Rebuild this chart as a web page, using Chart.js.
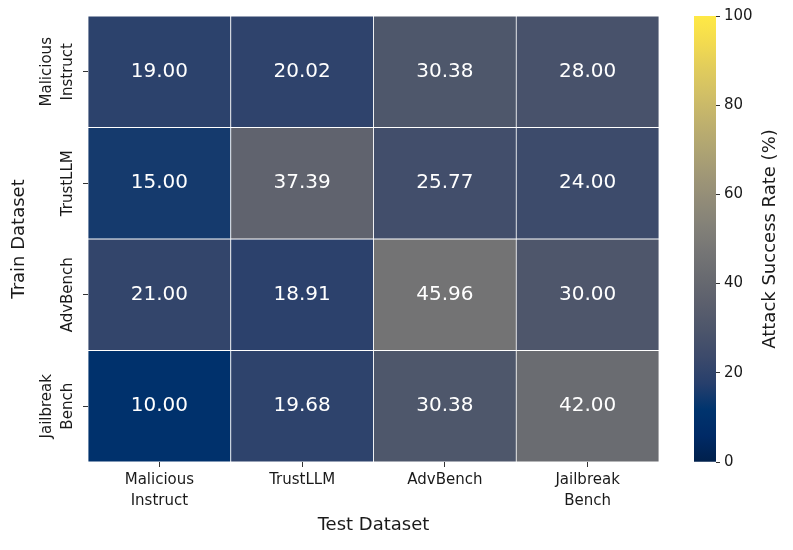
<!DOCTYPE html>
<html>
<head>
<meta charset="utf-8">
<script src="https://cdn.jsdelivr.net/npm/chart.js@4"></script>
<style>
  body { margin: 0; background: #fff; }
  #wrap { position: relative; width: 793px; height: 550px; }
  #heat { position: absolute; left: 0; top: 0; }
  #cbar { position: absolute; left: 680px; top: 0; }
</style>
</head>
<body>
<div id="wrap">
  <canvas id="heat" width="680" height="550"></canvas>
  <canvas id="cbar" width="113" height="550"></canvas>
</div>
<script>
const FONT = "'Comic Sans MS', 'DejaVu Sans', sans-serif";
Chart.defaults.font.family = FONT;
Chart.defaults.color = '#1a1a1a';

// test datasets (columns) and train datasets (rows)
const testLabels = [['Malicious', 'Instruct'], 'TrustLLM', 'AdvBench', ['Jailbreak', 'Bench']];
const trainLabels = [['Malicious', 'Instruct'], ['TrustLLM'], ['AdvBench'], ['Jailbreak', 'Bench']];

// attack success rate (%), one array per train dataset
const rowMalicious = [19.00, 20.02, 30.38, 28.00];
const rowTrustLLM  = [15.00, 37.39, 25.77, 24.00];
const rowAdvBench  = [21.00, 18.91, 45.96, 30.00];
const rowJailbreak = [10.00, 19.68, 30.38, 42.00];
const values = [rowMalicious, rowTrustLLM, rowAdvBench, rowJailbreak];

const cbMin = 0;
const cbMax = 100;
const cbTicks = [0, 20, 40, 60, 80, 100];

// cividis colormap stops
const cividis = [
  [0, 32, 76], [0, 42, 102], [0, 52, 110], [39, 63, 108], [60, 74, 107], [76, 85, 107],
  [91, 95, 109], [104, 106, 112], [117, 117, 117], [131, 129, 120], [146, 140, 120],
  [161, 152, 118], [176, 165, 114], [192, 177, 109], [209, 191, 102], [225, 204, 92],
  [243, 219, 79], [255, 233, 69]
];

function colorAt(v) {
  let t = (v - cbMin) / (cbMax - cbMin);
  t = Math.min(1, Math.max(0, t)) * (cividis.length - 1);
  const i = Math.min(Math.floor(t), cividis.length - 2);
  const f = t - i;
  const a = cividis[i], b = cividis[i + 1];
  const c = a.map((x, k) => Math.round(x + (b[k] - x) * f));
  return `rgb(${c[0]}, ${c[1]}, ${c[2]})`;
}

// one floating-bar dataset per row, spanning [row, row+1] on the y axis
const heatDatasets = values.map((row, r) => ({
  label: trainLabels[r].join(' '),
  data: row.map(() => [r, r + 1]),
  backgroundColor: row.map(colorAt),
  borderColor: '#ffffff',
  borderWidth: 0.75,
  borderSkipped: false,
  grouped: false,
  barPercentage: 1,
  categoryPercentage: 1
}));

const cellText = {
  id: 'cellText',
  afterDatasetsDraw(chart) {
    const { ctx, scales: { x, y } } = chart;
    ctx.save();
    ctx.fillStyle = '#ffffff';
    ctx.font = `20px ${FONT}`;
    ctx.textAlign = 'center';
    ctx.textBaseline = 'middle';
    values.forEach((row, r) => {
      row.forEach((v, c) => {
        ctx.fillText(v.toFixed(2), x.getPixelForValue(c), y.getPixelForValue(r + 0.5));
      });
    });
    ctx.restore();
  }
};

// rotated row labels on the left axis
const rowLabels = {
  id: 'rowLabels',
  afterDraw(chart) {
    const { ctx, scales: { y } } = chart;
    ctx.save();
    ctx.fillStyle = '#1a1a1a';
    ctx.font = `15px ${FONT}`;
    ctx.textAlign = 'center';
    ctx.textBaseline = 'middle';
    trainLabels.forEach((lines, i) => {
      ctx.save();
      ctx.translate(68, y.getPixelForValue(i + 0.5));
      ctx.rotate(-Math.PI / 2);
      lines.forEach((txt, j) => {
        ctx.fillText(txt, 0, -(lines.length - 1 - j) * 21);
      });
      ctx.restore();
    });
    ctx.restore();
  }
};

new Chart(document.getElementById('heat'), {
  type: 'bar',
  data: { labels: testLabels, datasets: heatDatasets },
  options: {
    responsive: false,
    animation: false,
    layout: { padding: { top: 16, right: 21, left: 0, bottom: 0 } },
    plugins: { legend: { display: false }, tooltip: { enabled: false } },
    scales: {
      x: {
        grid: { offset: false, drawOnChartArea: false, tickLength: 5, color: '#333' },
        border: { display: false },
        ticks: { font: { size: 15, lineHeight: 1.4 }, color: '#1a1a1a', padding: 3, maxRotation: 0 },
        title: { display: true, text: 'Test Dataset', font: { size: 18 }, color: '#1a1a1a', padding: { top: 4, bottom: 14 } },
        afterFit(scale) { scale.height = 88; }
      },
      y: {
        type: 'linear',
        min: 0,
        max: trainLabels.length,
        reverse: true,
        afterBuildTicks(scale) { scale.ticks = trainLabels.map((_, i) => ({ value: i + 0.5 })); },
        ticks: { display: false },
        grid: { drawOnChartArea: false, tickLength: 5, color: '#333' },
        border: { display: false },
        title: { display: true, text: 'Train Dataset', font: { size: 18 }, color: '#1a1a1a', padding: { top: 9, bottom: 0 } },
        afterFit(scale) { scale.width = 88; }
      }
    }
  },
  plugins: [cellText, rowLabels]
});

// colorbar title, reading bottom to top
const cbTitle = {
  id: 'cbTitle',
  afterDraw(chart) {
    const { ctx, chartArea } = chart;
    ctx.save();
    ctx.fillStyle = '#1a1a1a';
    ctx.font = `18px ${FONT}`;
    ctx.textAlign = 'center';
    ctx.textBaseline = 'middle';
    ctx.translate(90, (chartArea.top + chartArea.bottom) / 2);
    ctx.rotate(-Math.PI / 2);
    ctx.fillText('Attack Success Rate (%)', 0, 0);
    ctx.restore();
  }
};

function cbGradient(context) {
  const area = context.chart.chartArea;
  if (!area || !isFinite(area.top) || !isFinite(area.bottom)) return colorAt(50);
  const g = context.chart.ctx.createLinearGradient(0, area.bottom, 0, area.top);
  cividis.forEach((c, i) => g.addColorStop(i / (cividis.length - 1), `rgb(${c[0]}, ${c[1]}, ${c[2]})`));
  return g;
}

new Chart(document.getElementById('cbar'), {
  type: 'bar',
  data: {
    labels: [''],
    datasets: [{
      data: [[cbMin, cbMax]],
      backgroundColor: cbGradient,
      borderWidth: 0,
      barPercentage: 1,
      categoryPercentage: 1
    }]
  },
  options: {
    responsive: false,
    animation: false,
    layout: { padding: { top: 16, bottom: 88, left: 14, right: 0 } },
    plugins: { legend: { display: false }, tooltip: { enabled: false } },
    scales: {
      x: { display: false },
      y: {
        position: 'right',
        min: cbMin,
        max: cbMax,
        afterBuildTicks(scale) { scale.ticks = cbTicks.map(v => ({ value: v })); },
        ticks: { font: { size: 15 }, color: '#1a1a1a', padding: 4 },
        grid: { drawOnChartArea: false, tickLength: 4, color: '#333' },
        border: { display: false },
        afterFit(scale) { scale.width = 77; }
      }
    }
  },
  plugins: [cbTitle]
});
</script>
</body>
</html>
